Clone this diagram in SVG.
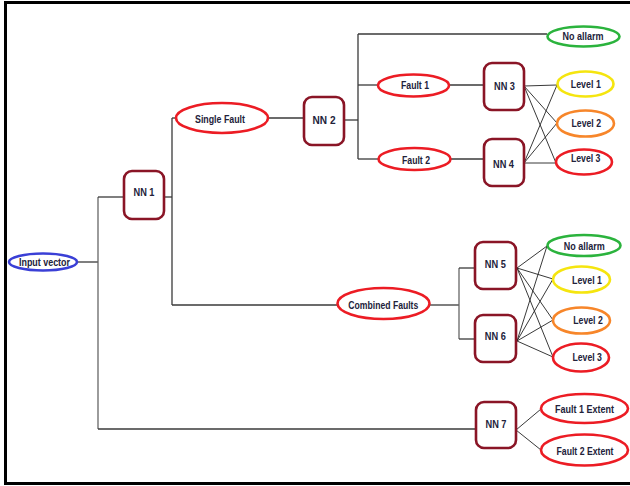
<svg xmlns="http://www.w3.org/2000/svg" width="630" height="486" viewBox="0 0 630 486">
<style>
.nn{fill:#fff;stroke:#8a1526;stroke-width:2.6}
.el{fill:#fff;stroke-width:2.6}
.red{stroke:#ec1c24}
.grn{stroke:#2bb33d}
.yel{stroke:#f5e50f}
.org{stroke:#f7862a}
.blu{stroke:#3a3fd6}
.t{font-family:"Liberation Sans",Arial,sans-serif;font-size:11.5px;font-weight:bold;fill:#22223a;text-anchor:middle}
.c path{fill:none;stroke:#3a3a3a;stroke-width:1.3}
.c .x{stroke:#222;stroke-width:0.9}
</style>
<rect x="5.5" y="2.5" width="700" height="481" fill="#fff" stroke="#000" stroke-width="3"/>
<g class="c" id="connectors">
<path d="M77,262 H98"/>
<path d="M98,197 V429" style="stroke:#666"/>
<path d="M98,197 H124"/>
<path d="M98,429 H476"/>
<path d="M164,197 H172"/>
<path d="M172,118 V305"/>
<path d="M172,118 H176"/>
<path d="M172,305 H337"/>
<path d="M268,118 H304"/>
<path d="M344,120 H358"/>
<path d="M358,34 V159"/>
<path d="M358,34 H547"/>
<path d="M358,85 H378"/>
<path d="M358,159 H378"/>
<path d="M449,85 H484"/>
<path d="M451,159 H484"/>
<path class="x" d="M524,86 L557,85 M524,86 L557,123 M524,86 L556,163"/>
<path class="x" d="M524,163 L557,85 M524,163 L557,123 M524,163 L556,163"/>
<path d="M430,305 H459"/>
<path d="M459,268 V339" style="stroke:#666"/>
<path d="M459,268 H475"/>
<path d="M459,339 H475"/>
<path class="x" d="M517,268 L547,246 M517,268 L553,279 M517,268 L553,320 M517,268 L553,357"/>
<path class="x" d="M517,341 L547,246 M517,341 L553,279 M517,341 L553,320 M517,341 L553,357"/>
<path class="x" d="M516,430 L541,409 M516,430 L541,450"/>
</g>
<g id="input"><ellipse class="el blu" cx="43" cy="262" rx="34" ry="8.5"/><text class="t" x="44.5" y="266" textLength="51" lengthAdjust="spacingAndGlyphs">Input vector</text></g>
<g id="nn1"><rect class="nn" x="124" y="171" width="40" height="48" rx="8"/><text class="t" x="144" y="196" textLength="21" lengthAdjust="spacingAndGlyphs">NN 1</text></g>
<g id="single"><ellipse class="el red" cx="222" cy="118" rx="46" ry="15"/><text class="t" x="220" y="122.5" textLength="50" lengthAdjust="spacingAndGlyphs">Single Fault</text></g>
<g id="nn2"><rect class="nn" x="304" y="97" width="40" height="48" rx="8"/><text class="t" x="324" y="123.5" textLength="23" lengthAdjust="spacingAndGlyphs">NN 2</text></g>
<g id="noalarm1"><ellipse class="el grn" cx="583.5" cy="36.5" rx="36" ry="10"/><text class="t" x="583" y="39.5" textLength="41" lengthAdjust="spacingAndGlyphs">No allarm</text></g>
<g id="fault1"><ellipse class="el red" cx="413.5" cy="85.5" rx="35.5" ry="11"/><text class="t" x="415" y="89" textLength="28" lengthAdjust="spacingAndGlyphs">Fault 1</text></g>
<g id="fault2"><ellipse class="el red" cx="414.5" cy="159" rx="36" ry="11"/><text class="t" x="416" y="164" textLength="28" lengthAdjust="spacingAndGlyphs">Fault 2</text></g>
<g id="nn3"><rect class="nn" x="484" y="63" width="40" height="47" rx="8"/><text class="t" x="504.5" y="90" textLength="21" lengthAdjust="spacingAndGlyphs">NN 3</text></g>
<g id="nn4"><rect class="nn" x="484" y="139" width="40" height="47" rx="8"/><text class="t" x="503.5" y="168.3" textLength="21" lengthAdjust="spacingAndGlyphs">NN 4</text></g>
<g id="lvl1a"><ellipse class="el yel" cx="585.5" cy="84" rx="28" ry="12.5"/><text class="t" x="585.8" y="87.5" textLength="30" lengthAdjust="spacingAndGlyphs">Level 1</text></g>
<g id="lvl2a"><ellipse class="el org" cx="585.5" cy="123.5" rx="28.5" ry="13"/><text class="t" x="586.3" y="127" textLength="29.5" lengthAdjust="spacingAndGlyphs">Level 2</text></g>
<g id="lvl3a"><ellipse class="el red" cx="584" cy="162" rx="28" ry="12.5"/><text class="t" x="585.7" y="162" textLength="29.5" lengthAdjust="spacingAndGlyphs">Level 3</text></g>
<g id="combined"><ellipse class="el red" cx="383.5" cy="303.5" rx="46" ry="15.5"/><text class="t" x="383.3" y="308.5" textLength="70" lengthAdjust="spacingAndGlyphs">Combined Faults</text></g>
<g id="nn5"><rect class="nn" x="475" y="242" width="41" height="47" rx="8"/><text class="t" x="495.3" y="268" textLength="21" lengthAdjust="spacingAndGlyphs">NN 5</text></g>
<g id="nn6"><rect class="nn" x="475" y="315" width="41" height="47" rx="8"/><text class="t" x="495.3" y="339.5" textLength="21" lengthAdjust="spacingAndGlyphs">NN 6</text></g>
<g id="noalarm2"><ellipse class="el grn" cx="584" cy="245.5" rx="36.5" ry="10.5"/><text class="t" x="584.2" y="250" textLength="41" lengthAdjust="spacingAndGlyphs">No allarm</text></g>
<g id="lvl1b"><ellipse class="el yel" cx="581.5" cy="279.5" rx="28.5" ry="13"/><text class="t" x="587" y="284.3" textLength="30" lengthAdjust="spacingAndGlyphs">Level 1</text></g>
<g id="lvl2b"><ellipse class="el org" cx="581.5" cy="320.5" rx="28.5" ry="13"/><text class="t" x="588" y="324" textLength="29.5" lengthAdjust="spacingAndGlyphs">Level 2</text></g>
<g id="lvl3b"><ellipse class="el red" cx="581" cy="357.5" rx="28" ry="14"/><text class="t" x="587.2" y="360.5" textLength="29.5" lengthAdjust="spacingAndGlyphs">Level 3</text></g>
<g id="nn7"><rect class="nn" x="476" y="402" width="40" height="46" rx="8"/><text class="t" x="496" y="427.7" textLength="21" lengthAdjust="spacingAndGlyphs">NN 7</text></g>
<g id="ext1"><ellipse class="el red" cx="584.5" cy="408.5" rx="43.5" ry="14.5"/><text class="t" x="584.5" y="413.3" textLength="59" lengthAdjust="spacingAndGlyphs">Fault 1 Extent</text></g>
<g id="ext2"><ellipse class="el red" cx="584.5" cy="450" rx="43.5" ry="15.5"/><text class="t" x="585" y="454.5" textLength="57" lengthAdjust="spacingAndGlyphs">Fault 2 Extent</text></g>
</svg>
